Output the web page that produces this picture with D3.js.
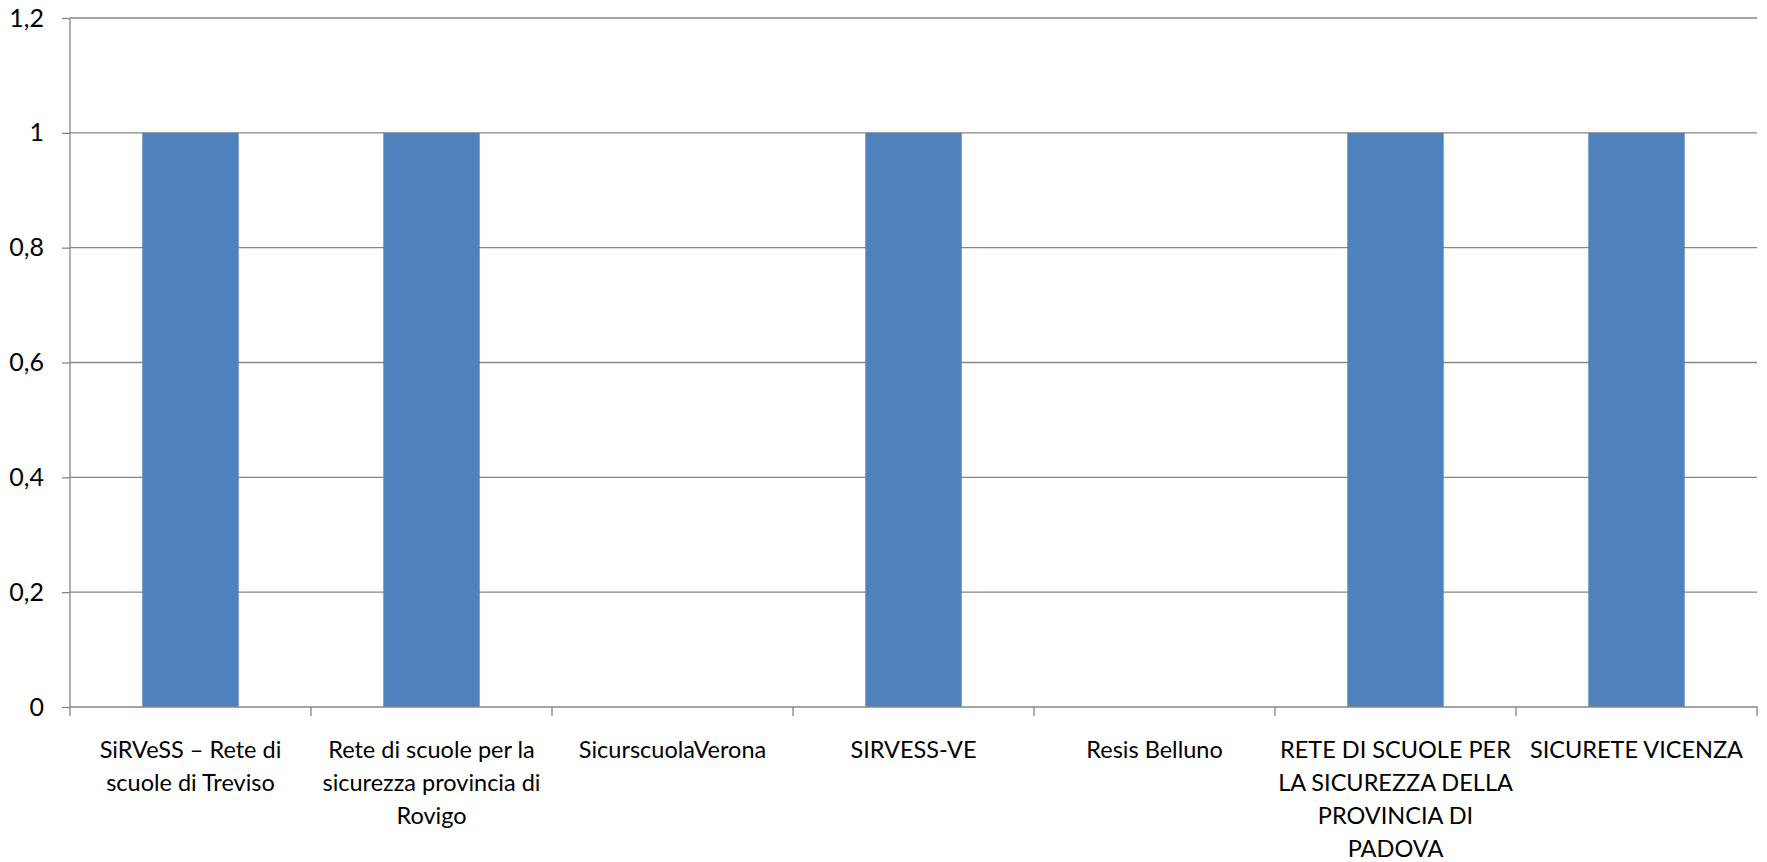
<!DOCTYPE html>
<html><head><meta charset="utf-8">
<script src="https://cdn.jsdelivr.net/npm/d3@7"></script>
<style>body{margin:0;background:#fff}svg{display:block}text{font-family:Lato,"Open Sans",sans-serif;fill:#000}</style>
</head><body>
<svg id="c" width="1767" height="862"></svg>
<script>
const categories = ["SiRVeSS – Rete di scuole di Treviso","Rete di scuole per la sicurezza provincia di Rovigo","SicurscuolaVerona","SIRVESS-VE","Resis Belluno","RETE DI SCUOLE PER LA SICUREZZA DELLA PROVINCIA DI PADOVA","SICURETE VICENZA"];
const labelLines = [
  ["SiRVeSS – Rete di","scuole di Treviso"],
  ["Rete di scuole per la","sicurezza provincia di","Rovigo"],
  ["SicurscuolaVerona"],
  ["SIRVESS-VE"],
  ["Resis Belluno"],
  ["RETE DI SCUOLE PER","LA SICUREZZA DELLA","PROVINCIA DI","PADOVA"],
  ["SICURETE VICENZA"]
];
const values = [1,1,0,1,0,1,1];
const yTicks = [0,0.2,0.4,0.6,0.8,1,1.2];
const yTickLabels = ["0","0,2","0,4","0,6","0,8","1","1,2"];

(function(){
const svg = d3.select("#c");
const mL = 70, mR = 1757, mT = 18, mB = 707;
const x = d3.scaleBand().domain(categories).range([mL,mR]).paddingInner(0.6).paddingOuter(0.3);
const xb = d3.scaleBand().domain(categories).range([mL,mR]);
const y = d3.scaleLinear().domain([0,1.2]).range([mB,mT]);
const grey = "#868686";

svg.append("g").selectAll("line").data(yTicks.filter(d=>d>0)).join("line")
  .attr("x1",mL).attr("x2",mR).attr("y1",d=>y(d)).attr("y2",d=>y(d))
  .attr("stroke",grey).attr("stroke-width",1.3);

svg.append("g").selectAll("rect").data(categories).join("rect")
  .attr("x",d=>x(d)).attr("width",x.bandwidth())
  .attr("y",(d,i)=>y(values[i])).attr("height",(d,i)=>y(0)-y(values[i]))
  .attr("fill","#4F81BD");

const ya = d3.axisLeft(y).tickValues(yTicks).tickFormat((d,i)=>yTickLabels[i]).tickSize(8).tickPadding(18);
const yg = svg.append("g").attr("transform",`translate(${mL},0)`).call(ya);
yg.select(".domain").attr("stroke",grey).attr("stroke-width",1.3).attr("d",`M0,${mT}V${mB}`);
yg.selectAll(".tick line").attr("stroke",grey).attr("stroke-width",1.3);
yg.selectAll(".tick text").style("font-size","25px").style("font-family","Lato").attr("fill","#000");

const xa = d3.axisBottom(xb).tickSize(0).tickFormat("");
const xg = svg.append("g").attr("transform",`translate(0,${mB})`).call(xa);
xg.select(".domain").attr("stroke",grey).attr("stroke-width",1.3).attr("d",`M${mL},0H${mR}V9M${mL},0V9`);
svg.append("g").selectAll("line").data(categories.slice(1)).join("line")
  .attr("x1",d=>xb(d)).attr("x2",d=>xb(d)).attr("y1",mB).attr("y2",mB+9)
  .attr("stroke",grey).attr("stroke-width",1.3);

const fs = 23.5, lh = 33;
const lab = svg.append("g");
categories.forEach((c,k)=>{
  const cx = xb(c)+xb.bandwidth()/2;
  const t = lab.append("text").attr("text-anchor","middle").style("font-size",fs+"px")
    .attr("x",cx).attr("y",mB+42).attr("dominant-baseline","central");
  labelLines[k].forEach((l,i)=>t.append("tspan").attr("x",cx).attr("dy",i?lh:0).text(l));
});
})();
</script>
</body></html>
